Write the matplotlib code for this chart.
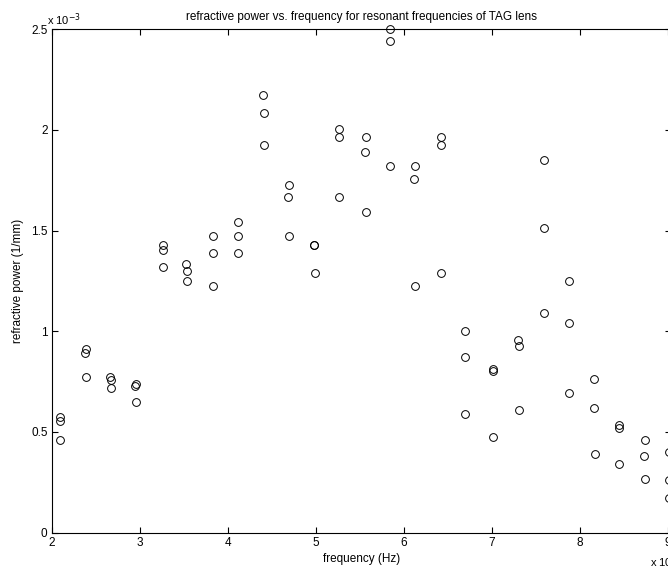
import numpy as np
import matplotlib.pyplot as plt

plt.rcParams['font.family'] = ['Liberation Sans', 'DejaVu Sans']

# frequency in units of 1e5 Hz, refractive power in units of 1e-3 1/mm
freq = [2.09, 2.10, 2.10, 2.39, 2.38, 2.39, 2.66, 2.67, 2.67, 2.96, 2.95, 2.96,
        3.26, 3.26, 3.26, 3.53, 3.54, 3.54, 3.83, 3.83, 3.83, 4.12, 4.12, 4.12,
        4.40, 4.41, 4.41, 4.70, 4.69, 4.70, 4.98, 4.98, 4.99, 5.27, 5.27, 5.27,
        5.57, 5.56, 5.57, 5.85, 5.84, 5.85, 6.13, 6.12, 6.13, 6.42, 6.42, 6.42,
        6.70, 6.70, 6.70, 7.01, 7.01, 7.01, 7.30, 7.31, 7.31, 7.59, 7.59, 7.60,
        7.88, 7.88, 7.88, 8.16, 8.16, 8.17, 8.45, 8.45, 8.45, 8.74, 8.73, 8.74,
        9.02, 9.02, 9.02]
power = [0.575, 0.555, 0.459, 0.913, 0.893, 0.772, 0.772, 0.758, 0.716, 0.736, 0.728, 0.647,
         1.428, 1.403, 1.317, 1.333, 1.300, 1.251, 1.474, 1.390, 1.225, 1.542, 1.474, 1.390,
         2.175, 2.086, 1.925, 1.726, 1.668, 1.474, 1.430, 1.428, 1.288, 2.003, 1.965, 1.668,
         1.965, 1.889, 1.592, 2.500, 2.442, 1.822, 1.822, 1.758, 1.225, 1.965, 1.925, 1.288,
         1.003, 0.873, 0.590, 0.811, 0.800, 0.476, 0.956, 0.928, 0.609, 1.852, 1.514, 1.089,
         1.249, 1.042, 0.692, 0.761, 0.617, 0.388, 0.534, 0.518, 0.339, 0.459, 0.380, 0.266,
         0.401, 0.261, 0.173]

xticks = [2, 3, 4, 5, 6, 7, 8, 9]
yticks = [0, 0.5, 1, 1.5, 2, 2.5]

fig = plt.figure(figsize=(6.68, 5.70), dpi=100)
ax = fig.add_axes([51.7/668, 37.5/570, 619.0/668, 503.2/570])

ax.plot(freq, power, ls='none', marker='o', ms=5.6, mfc='none', mec='black', mew=0.7, clip_on=False)

ax.set_xlim(2, 9.035)
ax.set_ylim(0, 2.5)
ax.set_xticks(xticks)
ax.set_yticks(yticks)
ax.set_xticklabels([str(t) for t in xticks])
ax.set_yticklabels(['0', '0.5', '1', '1.5', '2', '2.5'])
ax.tick_params(direction='in', length=4.5, width=0.8, top=True, right=True, labelsize=8.5, pad=3)
for s in ax.spines.values():
    s.set_linewidth(0.8)

ax.set_title('refractive power vs. frequency for resonant frequencies of TAG lens', fontsize=8.5, pad=7)
ax.set_xlabel('frequency (Hz)', fontsize=8.5, labelpad=3)
ax.set_ylabel('refractive power (1/mm)', fontsize=8.5, labelpad=5)

fig.text(47/668, 1 - 28/570, 'x 10$^{-3}$', fontsize=8, ha='left', va='bottom')
fig.text(650/668, 1 - 562/570, 'x 10$^{5}$', fontsize=8, ha='left', va='center')

fig.savefig('out.png', dpi=100)
